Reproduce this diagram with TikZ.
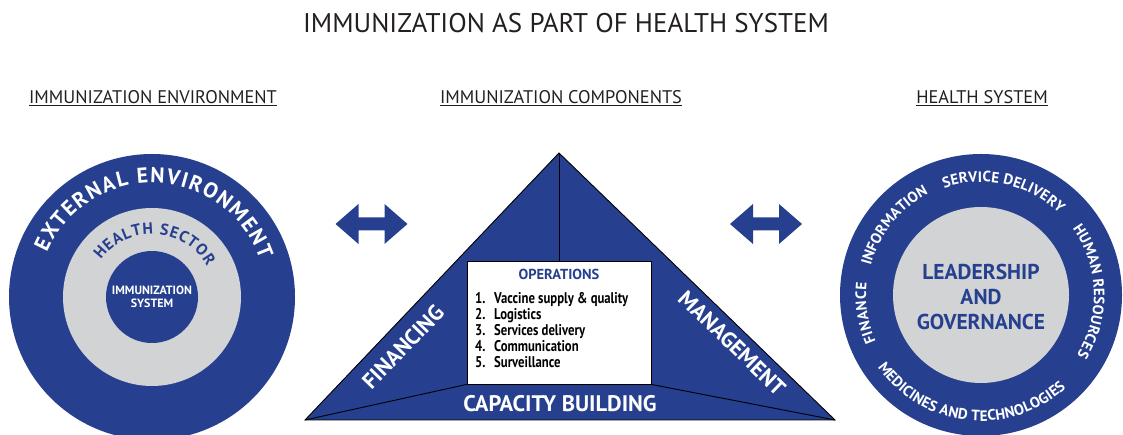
\documentclass[tikz,border=0pt]{standalone}
\usepackage{fontspec}
\setmainfont{PT Sans}
\newfontfamily\narrowfont[FakeStretch=0.82]{PT Sans}
\usetikzlibrary{decorations.text}
\definecolor{hsblue}{RGB}{38,64,143}
\definecolor{hsgray}{RGB}{209,211,212}
\definecolor{ink}{RGB}{35,31,32}
\tikzstyle{heading} = [anchor=base, text=ink, inner sep=0pt, font=\fontsize{18.3}{20}\selectfont]
\tikzstyle{side} = [text=white, inner sep=0pt, font=\bfseries\fontsize{22}{24}\selectfont]
\tikzstyle{oplist} = [anchor=base west, inner sep=0pt, font=\narrowfont\bfseries\fontsize{15.5}{17}\selectfont]
% centre, radius, start, end, size, colour, text
\newcommand{\ringtext}[7]{\path[decorate, decoration={text along path, text align=fit to path,
	text={|\bfseries\fontsize{#5}{#5}\selectfont\color{#6}|#7}}] (#1) ++(#3:#2) arc[start angle=#3, end angle=#4, radius=#2];}
\newcommand{\twoway}[2]{\fill[hsblue] (#1,#2) ++(-36,0) -- ++(23,20) -- ++(0,-13.5) -- ++(26,0) -- ++(0,13.5)
	-- ++(23,-20) -- ++(-23,-20) -- ++(0,13.5) -- ++(-26,0) -- ++(0,-13.5) -- cycle;}

\begin{document}
\begin{tikzpicture}[x=1pt, y=1pt]
				\useasboundingbox (0,0) rectangle (1123,435);
				\clip (0,0) rectangle (1123,435);
				% headings
				\node [heading, font=\fontsize{27}{30}\selectfont] (title) at (566,402) {IMMUNIZATION AS PART OF HEALTH SYSTEM};
				\node [heading] (envhead) at (153,331.5) {\underline{IMMUNIZATION ENVIRONMENT}};
				\node [heading] (comphead) at (561,331.5) {\underline{IMMUNIZATION COMPONENTS}};
				\node [heading] (syshead) at (982,331.5) {\underline{HEALTH SYSTEM}};
				% environment circles
				\coordinate (env) at (152,138);
				\fill[hsblue] (env) circle[radius=143];
				\fill[hsgray] (env) circle[radius=89];
				\fill[hsblue] (env) circle[radius=46];
				\ringtext{env}{114}{157}{19}{21.5}{white}{EXTERNAL ENVIRONMENT}
				\ringtext{env}{63}{144}{29}{16}{hsblue}{HEALTH SECTOR}
				\node [text=white, align=center, font=\bfseries\fontsize{12}{13}\selectfont] (imsys) at (152,138.5) {IMMUNIZATION\\SYSTEM};
				% arrows
				\twoway{371.5}{211}
				\twoway{766}{211}
				% components triangle
				\coordinate (apex) at (559,282);
				\coordinate (bl) at (305,15);
				\coordinate (br) at (835,15);
				\filldraw[fill=hsblue, draw=black, line width=0.9pt] (bl) -- (apex) -- (br) -- cycle;
				\node [draw=black, fill=white, line width=0.9pt, minimum width=184pt, minimum height=123pt, inner sep=0pt] (ops) at (559,112.5) {};
				\draw[line width=0.9pt] (apex) -- (ops.north);
				\draw[line width=0.9pt] (ops.south west) -- (bl);
				\draw[line width=0.9pt] (ops.south east) -- (br);
				\node [text=hsblue, font=\bfseries\fontsize{14.5}{16}\selectfont] (opshead) at (559,161) {OPERATIONS};
				\foreach \t [count=\i] in {Vaccine supply \& quality, Logistics, Services delivery, Communication, Surveillance} {
					\node [oplist] (num\i) at (475,{131-15.8*(\i-1)}) {\i.};
					\node [oplist] (item\i) at (494,{131-15.8*(\i-1)}) {\t};
				}
				\node [side, rotate=46] (fin) at (403,88) {FINANCING};
				\node [side, rotate=-44] (man) at (732,92) {MANAGEMENT};
				\node [text=white, font=\bfseries\fontsize{22.5}{24}\selectfont] (cap) at (560,31) {CAPACITY BUILDING};
				% health system circles
				\coordinate (hs) at (981,140);
				\fill[hsblue] (hs) circle[radius=141];
				\fill[hsgray] (hs) circle[radius=88];
				\ringtext{hs}{113}{109}{46}{15}{white}{SERVICE DELIVERY}
				\ringtext{hs}{114}{165}{118}{15}{white}{INFORMATION}
				\ringtext{hs}{113}{36}{-32}{15}{white}{HUMAN RESOURCES}
				\ringtext{hs}{115}{204}{174}{15}{white}{FINANCE}
				\ringtext{hs}{126}{215}{312.5}{15}{white}{MEDICINES AND TECHNOLOGIES}
				\node [text=hsblue, align=center, font=\bfseries\fontsize{21.5}{25}\selectfont] (lead) at (981,138) {LEADERSHIP\\AND\\GOVERNANCE};
			\end{tikzpicture}
\end{document}
